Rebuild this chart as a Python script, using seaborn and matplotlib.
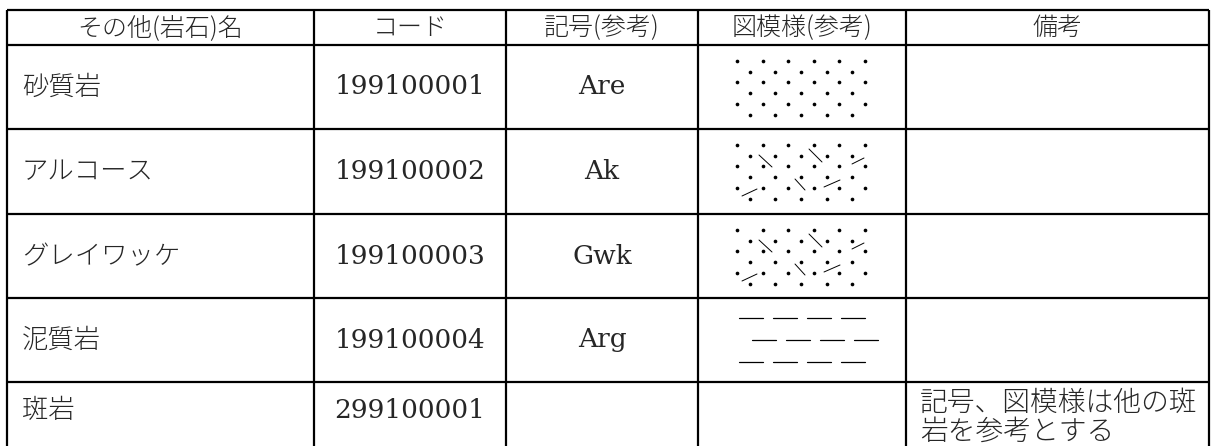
import numpy as np
import matplotlib
matplotlib.use("Agg")
import matplotlib.pyplot as plt
import seaborn as sns

# table contents
HEADERS = ["その他(岩石)名", "コード", "記号(参考)", "図模様(参考)", "備考"]
ROCK_NAMES = ["砂質岩", "アルコース", "グレイワッケ", "泥質岩", "斑岩"]
CODES = ["199100001", "199100002", "199100003", "199100004", "299100001"]
SYMBOLS = ["Are", "Ak", "Gwk", "Arg", ""]
PATTERNS = ["dots", "dots_strokes", "dots_strokes", "dashes", None]
REMARKS = ["", "", "", "", "記号、図模様は他の斑\n岩を参考とする"]

# page geometry in pixels
W, H = 1211, 446
COL_EDGES = [7, 314, 506, 698, 906, 1209]
ROW_EDGES = [10, 45, 129, 214, 298, 382]
LAST_ROW_CENTER = 410

JP = ["Noto Sans CJK JP", "DejaVu Sans"]
SERIF = ["DejaVu Serif"]

# slanted strokes of the arkose / greywacke motif, offsets from cell corner
STROKES = [
    ((61, 26), (74, 38)),
    ((111, 20), (124, 33)),
    ((97, 50), (107, 61)),
    ((44, 67), (59, 60)),
    ((126, 58), (142, 51)),
    ((154, 35), (166, 29)),
]


def draw_dots(ax, x0, y0):
    xs, ys = [], []
    for i in range(6):
        n = 6 if i % 2 == 0 else 5
        off = 0 if i % 2 == 0 else 12.8
        for k in range(n):
            xs.append(x0 + 39 + off + 25.6 * k)
            ys.append(y0 + 16 + 10.7 * i)
    sns.scatterplot(x=xs, y=ys, ax=ax, s=7, color="black", linewidth=0, legend=False)


def draw_strokes(ax, x0, y0):
    for (ax1, ay1), (ax2, ay2) in STROKES:
        ax.plot([x0 + ax1, x0 + ax2], [y0 + ay1, y0 + ay2], color="black", lw=0.7)


def draw_dashes(ax, x0, y0):
    for i, dy in enumerate([20, 42, 64]):
        shift = 13 if i == 1 else 0
        for k in range(4):
            xa = x0 + 41 + shift + 34 * k
            ax.plot([xa, xa + 24], [y0 + dy, y0 + dy], color="black", lw=0.9)


sns.set_theme(style="white")
plt.rcParams["font.family"] = JP

fig = plt.figure(figsize=(W / 100, H / 100), dpi=100)
ax = fig.add_axes([0, 0, 1, 1])
ax.set_xlim(0, W)
ax.set_ylim(H, 0)
ax.axis("off")

# grid
ax.hlines(ROW_EDGES, COL_EDGES[0], COL_EDGES[-1], color="black", lw=1.6)
ax.vlines(COL_EDGES, ROW_EDGES[0], H + 5, color="black", lw=1.6)

# header
hy = (ROW_EDGES[0] + ROW_EDGES[1]) / 2
for j, h in enumerate(HEADERS):
    cx = (COL_EDGES[j] + COL_EDGES[j + 1]) / 2
    ax.text(cx, hy, h, ha="center", va="center", fontsize=18, family=JP, weight="light")

# body row centres (last row runs off the page)
centers = [(ROW_EDGES[i] + ROW_EDGES[i + 1]) / 2 for i in range(1, len(ROW_EDGES) - 1)]
centers.append(LAST_ROW_CENTER)
c_code = (COL_EDGES[1] + COL_EDGES[2]) / 2
c_sym = (COL_EDGES[2] + COL_EDGES[3]) / 2

for i in range(len(ROCK_NAMES)):
    cy = centers[i]
    ax.text(COL_EDGES[0] + 15, cy, ROCK_NAMES[i], ha="left", va="center", fontsize=19,
            family=JP, weight="light")
    ax.text(c_code, cy, CODES[i], ha="center", va="center", fontsize=19, family=SERIF)
    if SYMBOLS[i]:
        ax.text(c_sym, cy, SYMBOLS[i], ha="center", va="center", fontsize=19, family=SERIF)
    x0, y0 = COL_EDGES[3], ROW_EDGES[i + 1]
    if PATTERNS[i] == "dots":
        draw_dots(ax, x0, y0)
    elif PATTERNS[i] == "dots_strokes":
        draw_dots(ax, x0, y0)
        draw_strokes(ax, x0, y0)
    elif PATTERNS[i] == "dashes":
        draw_dashes(ax, x0, y0)
    if REMARKS[i]:
        for n, line in enumerate(REMARKS[i].split("\n")):
            ax.text(COL_EDGES[4] + 14, 403 + 29 * n, line, ha="left", va="center",
                    fontsize=20, family=JP, weight="light")

fig.savefig("out.png", dpi=100)
